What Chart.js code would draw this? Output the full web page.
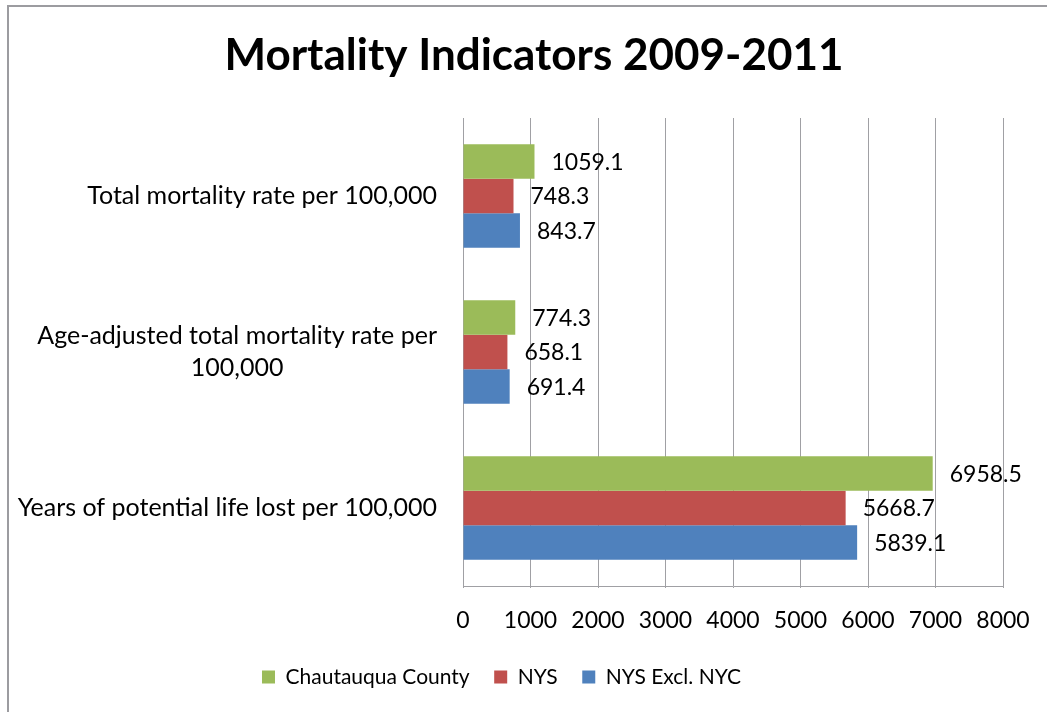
<!DOCTYPE html>
<html>
<head>
<meta charset="utf-8">
<script src="https://cdn.jsdelivr.net/npm/chart.js@4.4.1/dist/chart.umd.min.js"></script>
<style>
  html, body { margin: 0; padding: 0; background: #ffffff; }
  #wrap { position: relative; width: 1047px; height: 712px; overflow: hidden; }
  #frame { position: absolute; left: 7px; top: 5px; width: 1100px; height: 800px;
           border-left: 2px solid #9c9ca0; border-top: 2px solid #9c9ca0; box-sizing: border-box; }
  canvas { position: absolute; left: 0; top: 0; }
</style>
</head>
<body>
<div id="wrap">
  <div id="frame"></div>
  <canvas id="c" width="1047" height="712"></canvas>
</div>
<script>
const chartTitle = "Mortality Indicators 2009-2011";
const categories = [
  ["Total mortality rate per 100,000"],
  ["Age-adjusted total mortality rate per", "100,000"],
  ["Years of potential life lost per 100,000"]
];
const seriesNames = ["Chautauqua County", "NYS", "NYS Excl. NYC"];
const chautauqua = [1059.1, 774.3, 6958.5];
const nys = [748.3, 658.1, 5668.7];
const nysExclNyc = [843.7, 691.4, 5839.1];
const xTicks = [0, 1000, 2000, 3000, 4000, 5000, 6000, 7000, 8000];
const seriesColors = ["#9BBB59", "#C0504D", "#4F81BD"];

const FONT = "Lato, 'Open Sans', 'Liberation Sans', sans-serif";
const GRID = "#A0A0A4";

const titlePlugin = {
  id: "offsetTitle",
  afterDraw(chart) {
    const ctx = chart.ctx;
    ctx.save();
    ctx.font = "bold 44px " + FONT;
    ctx.fillStyle = "#000";
    ctx.textAlign = "center";
    ctx.textBaseline = "middle";
    ctx.fillText(chartTitle, 534, 56);
    ctx.restore();
  }
};

const labelPlugin = {
  id: "valueLabels",
  afterDatasetsDraw(chart) {
    const ctx = chart.ctx;
    ctx.save();
    ctx.font = "23px " + FONT;
    ctx.fillStyle = "#000";
    ctx.textAlign = "left";
    ctx.textBaseline = "middle";
    chart.data.datasets.forEach((ds, di) => {
      const meta = chart.getDatasetMeta(di);
      meta.data.forEach((el, i) => {
        ctx.fillText(ds.data[i].toFixed(1), el.x + 17, el.y + 1);
      });
    });
    ctx.restore();
  }
};

const catLabelPlugin = {
  id: "catLabels",
  afterDraw(chart) {
    const ctx = chart.ctx;
    const y = chart.scales.y;
    const right = chart.chartArea.left - 26;
    const lh = 32;
    ctx.save();
    ctx.font = "25px " + FONT;
    ctx.fillStyle = "#000";
    ctx.textAlign = "center";
    ctx.textBaseline = "middle";
    chart.data.labels.forEach((lines, i) => {
      const cy = y.getPixelForValue(i);
      const w = Math.max(...lines.map(l => ctx.measureText(l).width));
      const cx = right - w / 2;
      const top = cy - (lines.length - 1) * lh / 2;
      lines.forEach((l, k) => ctx.fillText(l, cx, top + k * lh));
    });
    ctx.restore();
  }
};

new Chart(document.getElementById("c"), {
  type: "bar",
  data: {
    labels: categories,
    datasets: [
      { label: seriesNames[0], data: chautauqua, backgroundColor: seriesColors[0] },
      { label: seriesNames[1], data: nys, backgroundColor: seriesColors[1] },
      { label: seriesNames[2], data: nysExclNyc, backgroundColor: seriesColors[2] }
    ]
  },
  options: {
    indexAxis: "y",
    responsive: false,
    animation: false,
    devicePixelRatio: 1,
    layout: { padding: { left: 0, right: 44, top: 118, bottom: 14.5 } },
    datasets: { bar: { categoryPercentage: 0.663, barPercentage: 1.0, borderWidth: 0 } },
    scales: {
      x: {
        min: 0, max: 8000,
        afterBuildTicks(scale) { scale.ticks = xTicks.map(v => ({ value: v })); },
        afterFit(scale) { scale.height = 56; scale.paddingRight = 0; scale.paddingLeft = 0; },
        grid: { color: GRID, lineWidth: 1, drawTicks: true, tickLength: 2, tickColor: GRID },
        border: { display: true, color: GRID, width: 1 },
        ticks: {
          color: "#000", font: { family: FONT, size: 23 }, padding: 19,
          maxRotation: 0, autoSkip: false,
          callback: (v) => String(v)
        }
      },
      y: {
        afterFit(scale) { scale.width = 463; },
        grid: { display: false },
        border: { display: true, color: GRID, width: 1 },
        ticks: { display: false }
      }
    },
    plugins: {
      title: { display: false },
      legend: {
        position: "bottom",
        labels: {
          color: "#000", font: { family: FONT, size: 21 },
          boxWidth: 13, boxHeight: 13, padding: 24.5
        }
      },
      tooltip: { enabled: false }
    }
  },
  plugins: [labelPlugin, catLabelPlugin, titlePlugin]
});
</script>
</body>
</html>
